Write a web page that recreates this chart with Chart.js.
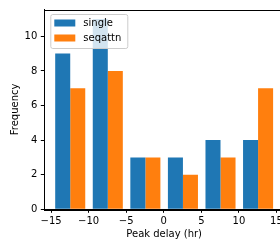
<!DOCTYPE html>
<html>
<head>
<meta charset="utf-8">
<script src="https://cdn.jsdelivr.net/npm/chart.js@4"></script>
<style>
  html, body { margin: 0; padding: 0; overflow: hidden; background: #fff; }
  canvas { display: block; }
</style>
</head>
<body>
<canvas id="histChart" width="290" height="245"></canvas>
<script>
// bin centres of the histogram (hr)
const binCenters = [-12.45, -7.45, -2.45, 2.55, 7.55, 12.55];
const singleCounts = [9, 11, 3, 3, 4, 4];
const seqattnCounts = [7, 8, 3, 2, 3, 7];
const seriesNames = ['single', 'seqattn'];
const xTicks = [-15, -10, -5, 0, 5, 10, 15];
const yTicks = [0, 2, 4, 6, 8, 10];

const blue = '#1f77b4';
const orange = '#ff7f0e';
const font = { family: 'DejaVu Sans', size: 10 };

function toPoints(counts) {
  return counts.map((c, i) => ({ x: binCenters[i], y: c }));
}

// spines + legend box drawn over the plot, like matplotlib
const framePlugin = {
  id: 'frame',
  afterDraw(chart) {
    const ctx = chart.ctx;
    const a = chart.chartArea;
    ctx.save();
    ctx.strokeStyle = '#000';
    ctx.lineWidth = 1;
    ctx.strokeRect(Math.round(a.left) + 0.5, Math.round(a.top) + 0.5,
      Math.round(a.right - a.left), Math.round(a.bottom - a.top));

    // legend
    const lx = a.left + 6, ly = a.top + 4.5, lw = 77, lh = 34;
    ctx.fillStyle = 'rgba(255,255,255,0.8)';
    ctx.strokeStyle = '#cccccc';
    ctx.beginPath();
    ctx.roundRect(lx + 0.5, ly + 0.5, lw, lh, 2);
    ctx.fill();
    ctx.stroke();
    ctx.font = '10px "DejaVu Sans"';
    ctx.textBaseline = 'middle';
    chart.data.datasets.forEach((ds, i) => {
      const cy = ly + 9 + i * 15;
      ctx.fillStyle = ds.backgroundColor;
      ctx.fillRect(lx + 4, cy - 3.5, 21, 7);
      ctx.fillStyle = '#000';
      ctx.fillText(ds.label, lx + 33, cy);
    });
    ctx.restore();
  }
};

function noPad(s) {
  s.paddingLeft = 0; s.paddingRight = 0; s.paddingTop = 0; s.paddingBottom = 0;
}

new Chart(document.getElementById('histChart').getContext('2d'), {
  type: 'bar',
  data: {
    datasets: [
      { label: seriesNames[0], data: toPoints(singleCounts), backgroundColor: blue },
      { label: seriesNames[1], data: toPoints(seqattnCounts), backgroundColor: orange }
    ]
  },
  options: {
    responsive: false,
    animation: false,
    layout: { padding: { top: 9.5, right: 6, left: 0, bottom: 0 } },
    datasets: { bar: { barPercentage: 1, categoryPercentage: 0.8, borderWidth: 0 } },
    plugins: { legend: { display: false }, tooltip: { enabled: false } },
    scales: {
      x: {
        type: 'linear',
        offset: false,
        min: -15.9,
        max: 16,
        afterBuildTicks: s => { s.ticks = xTicks.map(v => ({ value: v })); },
        afterFit: s => { s.height = 35.7; noPad(s); },
        grid: { display: true, offset: false, drawOnChartArea: false, drawTicks: true, tickLength: 3.5, color: '#000' },
        border: { color: '#000' },
        ticks: {
          color: '#000', font: font, padding: 3, maxRotation: 0,
          callback: v => String(v).replace('-', '\u2212')
        },
        title: { display: true, text: 'Peak delay (hr)', color: '#000', font: font, padding: { bottom: 5, top: 0 } }
      },
      y: {
        min: 0,
        max: 11.55,
        afterBuildTicks: s => { s.ticks = yTicks.map(v => ({ value: v })); },
        afterFit: s => { s.width = 44.3; noPad(s); },
        grid: { display: true, drawOnChartArea: false, drawTicks: true, tickLength: 3.5, color: '#000' },
        border: { color: '#000' },
        ticks: { color: '#000', font: font, padding: 3.5 },
        title: { display: true, text: 'Frequency', color: '#000', font: font, padding: { top: 9, bottom: 0 } }
      }
    }
  },
  plugins: [framePlugin]
});
</script>
</body>
</html>
